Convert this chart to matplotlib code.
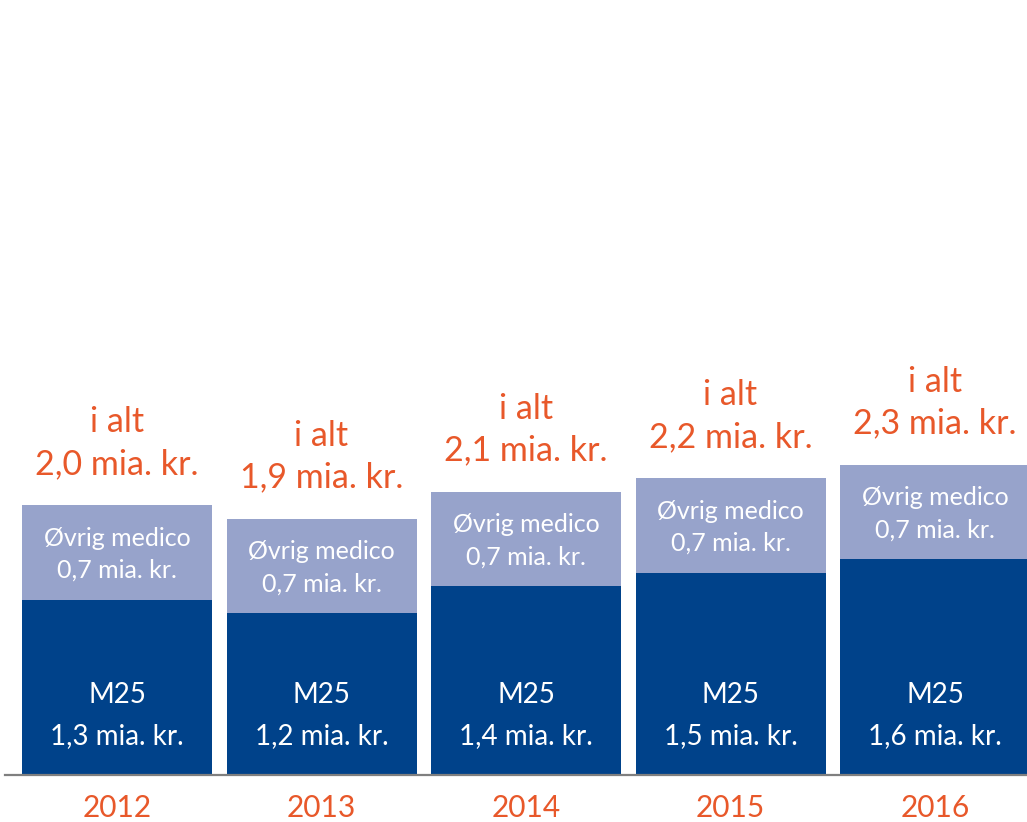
import matplotlib
matplotlib.use("Agg")
import matplotlib.pyplot as plt

years = ["2012", "2013", "2014", "2015", "2016"]
m25 = [1.3, 1.2, 1.4, 1.5, 1.6]
ovrig = [0.7, 0.7, 0.7, 0.7, 0.7]
totals = ["2,0", "1,9", "2,1", "2,2", "2,3"]
m25_lbl = ["1,3", "1,2", "1,4", "1,5", "1,6"]
ovrig_lbl = ["0,7", "0,7", "0,7", "0,7", "0,7"]

DARK = "#00428A"
LIGHT = "#97A3CB"
ORANGE = "#E8582A"
GRAY = "#7F7F7F"

plt.rcParams['font.family'] = ['Lato', 'DejaVu Sans']

W, H = 1027, 822
fig = plt.figure(figsize=(W / 100, H / 100), dpi=100)
base_px = 775
ppu = 135.0  # pixels per data unit
ax = fig.add_axes([5 / W, (H - base_px) / H, (W - 5) / W, base_px / H])
ax.set_ylim(0, base_px / ppu)
ax.set_xlim(-112 / 204.5, (W - 117) / 204.5)
ax.axis('off')

x = list(range(len(years)))
bw = 190 / 204.5
ax.bar(x, m25, width=bw, color=DARK, zorder=2)
ax.bar(x, ovrig, width=bw, bottom=m25, color=LIGHT, zorder=2)
ax.axhline(0, color=GRAY, lw=1.6, zorder=3, clip_on=False)

def px(v):
    return v / ppu

for i in x:
    tot = m25[i] + ovrig[i]
    mid = m25[i] + ovrig[i] / 2
    # totals
    ax.text(i, tot + px(41), f"{totals[i]} mia. kr.", ha='center', va='center',
            color=ORANGE, fontsize=24.5)
    ax.text(i, tot + px(83), "i alt", ha='center', va='center',
            color=ORANGE, fontsize=24.5)
    # ovrig segment
    ax.text(i, mid + px(14), "Øvrig medico", ha='center', va='center',
            color='white', fontsize=18)
    ax.text(i, mid - px(18), f"{ovrig_lbl[i]} mia. kr.", ha='center', va='center',
            color='white', fontsize=18)
    # m25 segment
    ax.text(i, px(80), "M25", ha='center', va='center', color='white', fontsize=20)
    ax.text(i, px(39), f"{m25_lbl[i]} mia. kr.", ha='center', va='center',
            color='white', fontsize=20)
    # year
    ax.text(i, -px(33), years[i], ha='center', va='center', color=ORANGE,
            fontsize=21.5, clip_on=False)

fig.savefig("out.png", dpi=100)
